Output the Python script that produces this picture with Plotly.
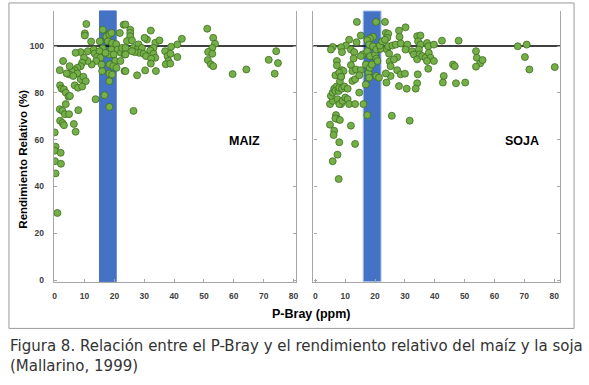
import plotly.graph_objects as go

W, H = 589, 385

# ---- data: MAIZ (P-Bray ppm, rendimiento relativo %) ----
maiz_p = [10.6, 10.1, 10.1, 12.2, 8.7, 7.0, 11.1, 13.1, 13.4, 15.1, 16.1, 17.3, 18.3, 19.0, 17.8,
          16.1, 15.0, 14.2, 15.3, 13.9, 12.4, 11.0, 9.8, 9.2, 8.7, 7.6, 6.7, 5.7, 4.8, 4.0,
          2.8, 1.7, 5.0, 7.6, 6.2, 8.7, 9.6, 10.4, 6.7, 7.8, 9.2, 1.8, 2.3, 3.1, 3.7,
          4.6, 5.1, 13.7, 16.7, 18.3, 26.4, 7.9, 3.7, 1.7, 2.6, 3.4, 4.8, 1.8, 2.6, 3.1,
          6.4, 7.0, 0.0, 0.3, 0.0, 2.0, 0.1, 2.1, 0.3, 0.9,
          19.2, 19.0, 20.6, 21.1, 18.4, 17.0, 19.8, 20.3, 18.4, 19.6, 20.7, 15.9, 15.7, 18.3, 19.2,
          18.3, 21.8, 23.1, 22.2, 22.6, 23.4, 22.0, 23.4,
          23.7, 25.3, 25.3, 25.3, 24.2, 25.9, 23.7, 26.4, 28.1, 27.6, 29.2, 28.3, 26.8, 25.9,
          29.8, 30.6, 23.7, 23.7, 27.6, 30.3, 30.9, 30.1, 32.2, 33.7, 35.1, 33.1, 32.0, 33.1,
          33.7, 32.3, 32.2, 33.9, 37.0, 39.0, 41.1, 42.6, 37.8, 38.8, 38.1, 37.2, 38.7, 41.1,
          51.1, 53.1, 53.7, 52.8, 51.4, 52.8, 51.3, 52.3, 53.1, 59.6, 64.2, 74.2, 71.7, 74.8, 73.7]
maiz_r = [109.4, 105.4, 104.5, 101.9, 97.4, 97.1, 97.8, 98.5, 96.8, 102.0, 107.0, 104.0, 104.9, 105.6, 102.0,
          99.0, 97.8, 95.4, 95.0, 93.6, 92.1, 93.6, 95.0, 92.9, 91.4, 90.7, 89.7, 89.3, 87.9, 88.3,
          93.6, 89.7, 91.4, 88.3, 87.2, 85.8, 86.9, 85.0, 83.2, 82.2, 82.7, 83.2, 81.8, 81.5, 80.1,
          78.4, 78.7, 77.3, 79.0, 74.0, 72.3, 72.6, 75.2, 73.0, 72.3, 70.9, 70.9, 68.1, 67.1, 66.2,
          66.7, 63.4, 63.1, 57.0, 55.3, 54.4, 50.8, 49.7, 45.6, 28.7,
          101.3, 98.5, 100.8, 98.5, 96.4, 97.1, 96.4, 93.6, 92.1, 91.4, 90.7, 89.3, 92.1, 88.3, 87.8,
          85.0, 105.6, 109.1, 97.1, 99.2, 96.4, 93.6, 89.3,
          109.2, 107.0, 105.6, 104.2, 102.1, 102.4, 99.2, 99.2, 100.7, 98.5, 99.2, 97.1, 97.4, 97.8,
          96.7, 95.7, 96.4, 89.3, 87.5, 89.6, 102.8, 103.5, 106.6, 101.4, 102.4, 99.2, 98.1, 96.7,
          95.0, 94.6, 92.5, 89.3, 97.8, 99.7, 100.7, 103.1, 95.7, 96.7, 93.6, 92.2, 92.5, 95.3,
          107.4, 103.5, 101.0, 99.2, 97.5, 96.7, 94.0, 92.2, 91.4, 88.0, 90.0, 97.8, 94.1, 92.7, 88.2]

# ---- data: SOJA ----
soja_p = [13.9, 20.3, 23.3, 30.2, 28.0, 28.2, 23.6, 24.4, 24.1, 19.3, 18.3, 17.4, 15.2, 13.8, 11.3,
          10.2, 8.6, 5.8, 5.2, 11.9, 13.0, 8.9, 7.2, 7.2, 6.7, 8.9, 9.4, 8.0, 8.6, 11.9,
          12.4, 13.6, 12.4, 13.3, 15.2, 14.7, 12.8, 15.8, 15.2, 16.9, 17.8, 18.0, 16.9, 18.2, 18.9,
          20.4, 21.3, 17.4, 18.3, 20.0, 20.4, 20.8, 18.0, 19.3, 20.4, 21.9, 21.6, 22.4, 23.3, 24.0,
          24.4, 24.7, 24.9, 25.2, 27.4, 26.3, 27.4, 25.2, 23.6, 23.8, 28.6, 30.0, 28.0, 30.6, 25.8,
          26.9, 28.6, 30.8, 30.2, 32.4, 33.0, 34.1, 35.2, 34.4, 35.2, 34.7, 34.9, 34.1, 35.8, 36.9,
          37.4, 37.8, 39.7, 38.0, 38.6, 37.4, 37.8, 39.7, 34.3, 34.1, 33.6, 42.4, 43.0, 42.7, 46.1,
          46.7, 47.1, 50.2, 48.0, 53.8, 54.1, 55.2, 56.0, 53.8, 67.8, 70.8, 70.2, 71.7, 80.2,
          4.9, 5.8, 5.2, 5.8, 6.3, 7.1, 6.7, 7.8, 8.0, 8.9, 9.7, 10.8, 8.2, 8.6,
          7.4, 8.6, 8.0, 9.1, 10.0, 10.8, 11.3, 13.3, 14.7, 16.1, 17.4, 25.6, 31.6,
          6.9, 7.4, 6.7, 8.2, 4.9, 6.3, 6.1, 11.9, 8.0, 13.3, 7.4, 5.8, 7.8]
soja_r = [110.3, 110.3, 110.3, 108.0, 106.6, 103.9, 105.6, 105.2, 103.5, 103.9, 103.2, 102.5, 104.5, 101.6, 102.7,
          100.2, 99.5, 99.6, 98.5, 98.5, 97.4, 97.4, 93.6, 91.7, 87.5, 89.7, 89.3, 88.6, 86.9, 91.9,
          89.3, 90.0, 85.1, 85.8, 89.7, 87.5, 94.7, 96.4, 95.7, 92.1, 88.6, 86.5, 83.6, 90.7, 92.1,
          87.2, 86.5, 97.8, 95.7, 96.4, 94.6, 93.6, 100.6, 99.9, 98.5, 98.8, 100.2, 102.0, 102.7, 98.5,
          99.9, 96.7, 93.4, 91.4, 95.2, 94.3, 89.7, 87.2, 88.3, 84.4, 87.9, 88.2, 82.9, 81.8, 100.2,
          100.6, 101.1, 100.6, 98.5, 97.8, 96.4, 104.2, 104.5, 102.0, 100.6, 98.5, 96.4, 94.3, 95.7, 95.0,
          101.3, 99.9, 100.6, 97.1, 95.0, 93.6, 90.3, 93.6, 87.9, 84.1, 81.8, 102.3, 87.2, 84.4, 92.1,
          91.4, 84.1, 84.4, 102.3, 97.8, 95.0, 92.6, 94.0, 91.2, 99.9, 100.6, 95.3, 90.0, 91.0,
          75.2, 76.6, 78.7, 80.1, 81.8, 82.7, 80.8, 80.8, 82.2, 81.8, 82.7, 81.8, 84.9, 86.9,
          77.3, 75.2, 75.2, 76.6, 78.0, 77.3, 75.2, 75.2, 80.1, 75.2, 70.5, 70.2, 68.1,
          70.5, 68.8, 69.1, 68.4, 66.4, 63.8, 62.0, 66.0, 58.9, 58.2, 53.6, 50.8, 43.2]

# critical P bands (ppm) and reference yield
maiz_band = [15.0, 20.6]
soja_band = [16.0, 22.0]
ref_yield = 100
x_ticks = [0, 10, 20, 30, 40, 50, 60, 70, 80]
y_ticks = [0, 20, 40, 60, 80, 100]

GREEN = "#74AF47"
EDGE = "#3F6E22"
BLUE = "#4472C4"
AXC = "#A6A6A6"
TICKFONT = dict(family="Liberation Sans", size=8.5, color="#404040", weight="bold")

fig = go.Figure()
marker = dict(size=7, color=GREEN, line=dict(color=EDGE, width=0.8))
fig.add_trace(go.Scatter(x=maiz_p, y=maiz_r, mode="markers", marker=marker,
                         xaxis="x", yaxis="y", showlegend=False, hoverinfo="x+y"))
fig.add_trace(go.Scatter(x=soja_p, y=soja_r, mode="markers", marker=marker,
                         xaxis="x2", yaxis="y2", showlegend=False, hoverinfo="x+y"))

# shapes: bands, 100% lines
for xr, yr, band, lc in [("x", "y", maiz_band, BLUE), ("x2", "y2", soja_band, "#B4C9EC")]:
    fig.add_shape(type="rect", xref=xr, yref=yr + " domain", x0=band[0], x1=band[1], y0=0, y1=1,
                  fillcolor=BLUE, line=dict(color=lc, width=1), layer="below")
    fig.add_shape(type="line", xref=xr + " domain", yref=yr, x0=0, x1=1, y0=ref_yield, y1=ref_yield,
                  line=dict(color="black", width=1.5), layer="below")

# outer frame
fig.add_shape(type="rect", xref="paper", yref="paper", x0=8 / W, x1=576 / W,
              y0=1 - 331 / H, y1=1 - 3 / H, line=dict(color="#9A9A9A", width=1))

ydom = [1 - 284 / H, 1 - 11 / H]
xcommon = dict(range=[-0.33, 81], tickvals=x_ticks, ticks="inside", ticklen=3, tickcolor=AXC,
               showline=True, linecolor=AXC, linewidth=1.2, showgrid=False, zeroline=False,
               tickfont=TICKFONT, ticklabelstandoff=6)
ycommon = dict(range=[-0.7, 115], tickvals=y_ticks, ticks="inside", ticklen=3, tickcolor=AXC,
               showline=True, linecolor=AXC, linewidth=1.2, mirror="ticks", showgrid=False,
               zeroline=False, domain=ydom, tickfont=TICKFONT)

fig.update_layout(
    width=W, height=H, margin=dict(l=0, r=0, t=0, b=0),
    paper_bgcolor="white", plot_bgcolor="white",
    xaxis=dict(domain=[53 / W, 297 / W], anchor="y", **xcommon),
    yaxis=dict(anchor="x", ticklabelstandoff=7, **ycommon),
    xaxis2=dict(domain=[314 / W, 562 / W], anchor="y2", **{**xcommon, "range": [-0.67, 82]}),
    yaxis2=dict(anchor="x2", showticklabels=False, **ycommon),
    annotations=[
        dict(text="<b>Rendimiento Relativo (%)</b>", xref="paper", yref="paper", x=22 / W, y=1 - 160 / H,
             xanchor="center", yanchor="middle",
             textangle=-90, showarrow=False, font=dict(family="Liberation Sans", size=11.5, color="black")),
        dict(text="<b>P-Bray (ppm)</b>", xref="paper", yref="paper", x=312 / W, y=1 - 316 / H,
             xanchor="center", yanchor="middle",
             showarrow=False, font=dict(family="Liberation Sans", size=12.5, color="black")),
        dict(text="<b>MAIZ</b>", xref="x", yref="y", x=63.7, y=59.4, showarrow=False,
             xanchor="center", yanchor="middle",
             font=dict(family="Liberation Sans", size=12.5, color="black")),
        dict(text="<b>SOJA</b>", xref="x2", yref="y2", x=69.3, y=59.4, showarrow=False,
             xanchor="center", yanchor="middle",
             font=dict(family="Liberation Sans", size=12.5, color="black")),
        dict(text="Figura 8. Relación entre el P-Bray y el rendimiento relativo del maíz y la soja",
             xref="paper", yref="paper", x=7 / W, y=1 - 349 / H, xanchor="left", yanchor="middle",
             showarrow=False, font=dict(family="DejaVu Sans", size=15, color="#333333")),
        dict(text="(Mallarino, 1999)", xref="paper", yref="paper", x=7 / W, y=1 - 369 / H,
             xanchor="left", yanchor="middle", showarrow=False,
             font=dict(family="DejaVu Sans", size=15, color="#333333")),
    ],
)

fig.write_html("out.html", config={"displayModeBar": False},
               post_script="document.body.style.margin='0';document.body.style.padding='0';")
